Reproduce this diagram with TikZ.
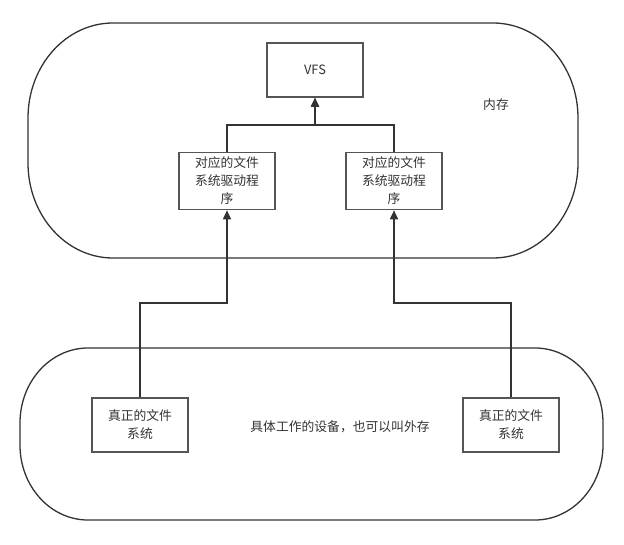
\documentclass[tikz,border=0pt]{standalone}
\usepackage{fontspec}
\setmainfont{Noto Sans CJK SC}
\usetikzlibrary{arrows.meta}
\definecolor{linec}{HTML}{333333}
\definecolor{boxc}{HTML}{555555}
\definecolor{txtc}{HTML}{333333}
\tikzset{
  fsbox/.style={draw=boxc, line width=1.6pt, fill=white, minimum width=96pt, minimum height=55pt, align=center, inner sep=2pt, text=txtc, font=\fontsize{12.8}{18}\selectfont},
  conn/.style={draw=linec, line width=1.7pt, -{Triangle[length=9pt,width=8pt]}},
  region/.style={draw=linec, line width=1.3pt},
  lbl/.style={text=txtc, font=\fontsize{12.8}{18}\selectfont}
}
\begin{document}
\begin{tikzpicture}[x=1pt,y=1pt]
\useasboundingbox (0,0) rectangle (624,544);
% upper region (memory)
\draw[region] (113,521) -- (493,521)
  arc[start angle=90,end angle=0,x radius=85pt,y radius=95pt] -- (578,381)
  arc[start angle=0,end angle=-90,x radius=85pt,y radius=95pt] -- (113,286)
  arc[start angle=270,end angle=180,x radius=85pt,y radius=95pt] -- (28,426)
  arc[start angle=180,end angle=90,x radius=85pt,y radius=95pt] -- cycle;
% lower region (device)
\draw[region] (88,196) -- (535,196)
  arc[start angle=90,end angle=0,x radius=68pt,y radius=75pt] -- (603,99)
  arc[start angle=0,end angle=-90,x radius=68pt,y radius=75pt] -- (88,24)
  arc[start angle=270,end angle=180,x radius=68pt,y radius=75pt] -- (20,121)
  arc[start angle=180,end angle=90,x radius=68pt,y radius=75pt] -- cycle;

\node[fsbox, minimum height=54pt] (vfs) at (315,474) {VFS};
\node[fsbox, minimum height=57pt] (dl) at (227,363) {对应的文件\\系统驱动程\\序};
\node[fsbox, minimum height=57pt] (dr) at (394,363) {对应的文件\\系统驱动程\\序};
\node[fsbox, minimum height=54pt] (rl) at (140,119) {真正的文件\\系统};
\node[fsbox, minimum height=54pt] (rr) at (511,119) {真正的文件\\系统};

\node[lbl] (mem) at (496,439) {内存};
\node[lbl] (dev) at (340,117) {具体工作的设备，也可以叫外存};

\coordinate (jt) at (315,419);
\coordinate (bl) at (227,241);
\coordinate (br) at (394,241);

\draw[conn] (dl.north) |- (jt) -- (vfs.south);
\draw[conn] (dr.north) |- (jt) -- (vfs.south);
\draw[conn] (rl.north) |- (bl) -- (dl.south);
\draw[conn] (rr.north) |- (br) -- (dr.south);
\end{tikzpicture}
\end{document}
